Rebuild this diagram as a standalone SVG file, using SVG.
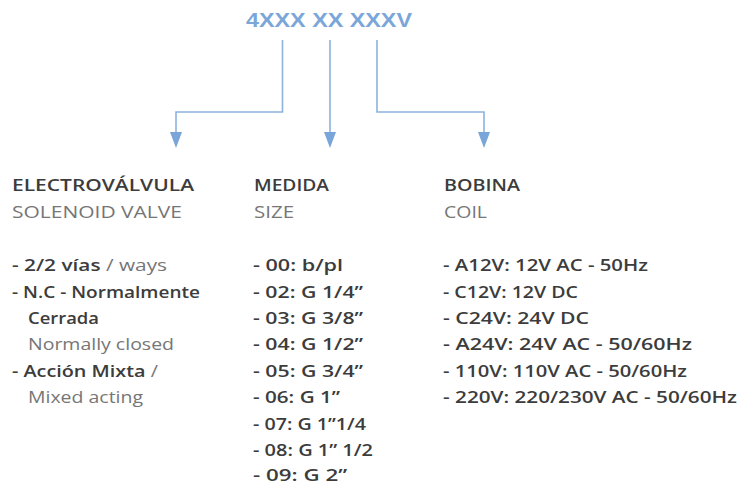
<svg xmlns="http://www.w3.org/2000/svg" width="756" height="485" viewBox="0 0 756 485">
<defs>
<style>
text{font-family:"Open Sans","Liberation Sans",sans-serif;font-size:17px}
.b{font-weight:600;fill:#3c3c3c}
.l{font-weight:400;fill:#767676}
.code{font-family:"Liberation Sans",Arial,sans-serif;font-weight:700;font-size:21px;fill:#7aa6d9}
.c{fill:none;stroke:#8db2de;stroke-width:1.6}
.a{fill:#7aa5d8}
</style>
</defs>
<rect width="756" height="485" fill="#ffffff"/>
<g id="code"><text class="code" x="246" y="27" textLength="166" lengthAdjust="spacingAndGlyphs">4XXX XX XXXV</text></g>
<g id="connectors">
<path class="c" d="M282.5,40 V112 H176 V132"/>
<path class="c" d="M330,40 V132"/>
<path class="c" d="M377,40 V112 H484 V132"/>
<path class="a" d="M170,132 H182 L176,148 Z"/>
<path class="a" d="M324,132 H336 L330,148 Z"/>
<path class="a" d="M478,132 H490 L484,148 Z"/>
</g>
<g id="valve">
<text class="b" x="12" y="191" textLength="182" lengthAdjust="spacingAndGlyphs">ELECTROVÁLVULA</text>
<text class="l" x="12" y="218" textLength="170" lengthAdjust="spacingAndGlyphs">SOLENOID VALVE</text>
<text x="12" y="271" textLength="155" lengthAdjust="spacingAndGlyphs"><tspan class="b">- 2/2 vías</tspan><tspan class="l"> / ways</tspan></text>
<text class="b" x="12" y="297.5" textLength="188" lengthAdjust="spacingAndGlyphs">- N.C - Normalmente</text>
<text class="b" x="28" y="324" textLength="71" lengthAdjust="spacingAndGlyphs">Cerrada</text>
<text class="l" x="28" y="350" textLength="146" lengthAdjust="spacingAndGlyphs">Normally closed</text>
<text x="12" y="376.5" textLength="146" lengthAdjust="spacingAndGlyphs"><tspan class="b">- Acción Mixta</tspan><tspan class="l"> /</tspan></text>
<text class="l" x="28" y="403" textLength="115" lengthAdjust="spacingAndGlyphs">Mixed acting</text>
</g>
<g id="size">
<text class="b" x="254" y="191" textLength="75" lengthAdjust="spacingAndGlyphs">MEDIDA</text>
<text class="l" x="254" y="218" textLength="40" lengthAdjust="spacingAndGlyphs">SIZE</text>
<text class="b" x="253" y="271" textLength="90" lengthAdjust="spacingAndGlyphs">- 00: b/pl</text>
<text class="b" x="253" y="297.5" textLength="110" lengthAdjust="spacingAndGlyphs">- 02: G 1/4”</text>
<text class="b" x="253" y="324" textLength="110" lengthAdjust="spacingAndGlyphs">- 03: G 3/8”</text>
<text class="b" x="253" y="350" textLength="110" lengthAdjust="spacingAndGlyphs">- 04: G 1/2”</text>
<text class="b" x="253" y="376.5" textLength="110" lengthAdjust="spacingAndGlyphs">- 05: G 3/4”</text>
<text class="b" x="253" y="403" textLength="87" lengthAdjust="spacingAndGlyphs">- 06: G 1”</text>
<text class="b" x="253" y="429.5" textLength="113" lengthAdjust="spacingAndGlyphs">- 07: G 1”1/4</text>
<text class="b" x="253" y="456" textLength="120" lengthAdjust="spacingAndGlyphs">- 08: G 1” 1/2</text>
<text class="b" x="253" y="481" textLength="94" lengthAdjust="spacingAndGlyphs">- 09: G 2”</text>
</g>
<g id="coil">
<text class="b" x="444" y="191" textLength="76" lengthAdjust="spacingAndGlyphs">BOBINA</text>
<text class="l" x="444" y="218" textLength="43" lengthAdjust="spacingAndGlyphs">COIL</text>
<text class="b" x="443" y="271" textLength="205" lengthAdjust="spacingAndGlyphs">- A12V: 12V AC - 50Hz</text>
<text class="b" x="443" y="297.5" textLength="135" lengthAdjust="spacingAndGlyphs">- C12V: 12V DC</text>
<text class="b" x="443" y="324" textLength="146" lengthAdjust="spacingAndGlyphs">- C24V: 24V DC</text>
<text class="b" x="443" y="350" textLength="249" lengthAdjust="spacingAndGlyphs">- A24V: 24V AC - 50/60Hz</text>
<text class="b" x="443" y="376.5" textLength="244" lengthAdjust="spacingAndGlyphs">- 110V: 110V AC - 50/60Hz</text>
<text class="b" x="443" y="403" textLength="294" lengthAdjust="spacingAndGlyphs">- 220V: 220/230V AC - 50/60Hz</text>
</g>
</svg>
